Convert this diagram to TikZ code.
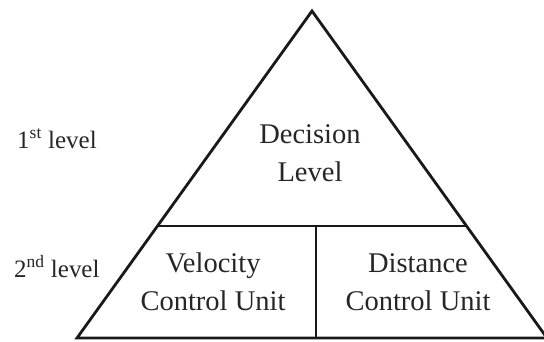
\documentclass[tikz,border=0pt]{standalone}
\usepackage{fontspec}
\setmainfont{Liberation Serif}
\usetikzlibrary{calc}
\begin{document}
\begin{tikzpicture}[x=1pt,y=1pt,
  edge/.style={line width=2.8pt,draw=black!90,line join=miter},
  lbl/.style={anchor=base,inner sep=0pt,text=black!85,font=\fontsize{28.5}{34}\selectfont},
  side/.style={anchor=base west,inner sep=0pt,text=black!85,font=\fontsize{25}{28}\selectfont}]
\useasboundingbox (0,0) rectangle (544,341);
\clip (0,0) rectangle (544,341);
\coordinate (apex) at (312,330);
\coordinate (bl) at (77,3);
\coordinate (br) at (547,3);
\coordinate (ml) at ($(apex)!0.6575!(bl)$);
\coordinate (mr) at ($(apex)!0.6575!(br)$);
\coordinate (mt) at (316,115);
\coordinate (mb) at (316,3);
\draw[edge] (bl) -- (apex) -- (br) -- cycle;
\draw[edge,line width=2.3pt] (ml) -- (mr);
\draw[edge,line width=1.8pt] (mt) -- (mb);
\node[lbl] (dec1) at (310,198) {Decision};
\node[lbl] (dec2) at (310,160) {Level};
\node[lbl] (vel1) at (213,69) {Velocity};
\node[lbl] (vel2) at (213,31) {Control Unit};
\node[lbl] (dis1) at (418,69) {Distance};
\node[lbl] (dis2) at (418,31) {Control Unit};
\node[side] (l1) at (17,193) {1\textsuperscript{st} level};
\node[side] (l2) at (14,64) {2\textsuperscript{nd} level};
\end{tikzpicture}
\end{document}
